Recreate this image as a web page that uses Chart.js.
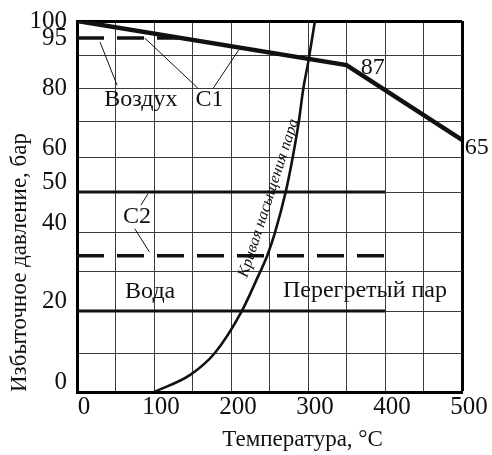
<!DOCTYPE html>
<html>
<head>
<meta charset="utf-8">
<script src="https://cdn.jsdelivr.net/npm/chart.js@4.4.1/dist/chart.umd.min.js"></script>
<style>
  body { margin: 0; background: #fff; }
  #wrap { width: 492px; height: 455px; }
</style>
</head>
<body>
<div id="wrap"><canvas id="chart" width="492" height="455"></canvas></div>
<script>
/* DATA (temperature °C, gauge pressure bar) */
const c1Temp = [0, 350, 500];
const c1Pressure = [100, 87, 65];

const airTemp = [0, 132];
const airPressure = [95, 95];

const upperTemp = [0, 400];
const upperPressure = [50, 50];

const c2Temp = [0, 400];
const c2Pressure = [34, 34];

const lowerTemp = [0, 400];
const lowerPressure = [20, 20];

const satTemp = [100, 147, 179, 214, 235, 247, 257, 271, 280, 288, 294, 300, 309];
const satPressure = [0, 4.4, 10, 20, 28.6, 34, 40, 50, 60, 70, 80, 87.5, 100];

const xTickValues = [0, 50, 100, 150, 200, 250, 300, 350, 400, 450, 500];
const xLabels = [0, 100, 200, 300, 400, 500];
const yTickValues = [0, 10, 20, 30, 40, 50, 60, 70, 80, 90, 95, 100];
const yLabels = [0, 20, 40, 50, 60, 80, 95, 100];

// the original pressure axis is hand drawn: share of the height at 0,10,...,100 bar
const pressureGrid = [0, 0.105, 0.218, 0.326, 0.429, 0.539, 0.631, 0.728, 0.819, 0.908, 1];

const FONT = "'Liberation Serif', 'Times New Roman', serif";
const X_TITLE = "Температура, °C";

/* PRESSURE SCALE (piecewise linear over the drawn grid) */
function pressureToShare(v){
  let i = Math.min(Math.max(Math.floor(v / 10), 0), pressureGrid.length - 2);
  return pressureGrid[i] + (v / 10 - i) * (pressureGrid[i+1] - pressureGrid[i]);
}
function shareToPressure(d){
  let i = 0;
  while(i < pressureGrid.length - 2 && d > pressureGrid[i+1]) i++;
  return (i + (d - pressureGrid[i]) / (pressureGrid[i+1] - pressureGrid[i])) * 10;
}
class PressureScale extends Chart.LinearScale {
  getPixelForValue(v){ return v === null ? NaN : this.getPixelForDecimal(pressureToShare(v)); }
  getValueForPixel(px){ return shareToPressure(this.getDecimalForPixel(px)); }
}
PressureScale.id = "pressure";
PressureScale.defaults = Chart.LinearScale.defaults;
Chart.register(PressureScale);

function points(xs, ys){ return xs.map((x, i) => ({ x: x, y: ys[i] })); }

/* TEXT AND LEADER LINES */
const notes = [
  { text: "Воздух", t: 83, p: 76.5 },
  { text: "C1", t: 172, p: 76.5 },
  { text: "C2", t: 78, p: 43.9 },
  { text: "Вода", t: 95, p: 24.8 },
  { text: "Перегретый пар", t: 374, p: 25.2 },
  { text: "87", t: 384, p: 86.1 },
  { text: "65", t: 519, p: 62.8 }
];
const leaders = [
  [30, 93.8, 52, 80.9],
  [88, 95, 157, 80],
  [177, 80, 210, 91.5],
  [83, 46.8, 92, 49.5],
  [75, 41, 94, 35]
];
const curveNote = { text: "Кривая насыщения пара", t: 249, p: 48.5, angle: -72 };

const notesPlugin = {
  id: "notes",
  afterDraw(chart){
    const ctx = chart.ctx, xs = chart.scales.x, ys = chart.scales.y;
    ctx.save();
    ctx.strokeStyle = "#111";
    ctx.lineWidth = 1;
    leaders.forEach(l => {
      ctx.beginPath();
      ctx.moveTo(xs.getPixelForValue(l[0]), ys.getPixelForValue(l[1]));
      ctx.lineTo(xs.getPixelForValue(l[2]), ys.getPixelForValue(l[3]));
      ctx.stroke();
    });
    ctx.fillStyle = "#111";
    ctx.textAlign = "center";
    ctx.textBaseline = "middle";
    ctx.font = "24px " + FONT;
    notes.forEach(n => {
      ctx.fillText(n.text, xs.getPixelForValue(n.t), ys.getPixelForValue(n.p));
    });
    // x axis title sits right of the plot centre in the original
    ctx.font = "23px " + FONT;
    ctx.fillText(X_TITLE, xs.getPixelForValue(293), 440);
    ctx.translate(xs.getPixelForValue(curveNote.t), ys.getPixelForValue(curveNote.p));
    ctx.rotate(curveNote.angle * Math.PI / 180);
    ctx.font = "italic 16px " + FONT;
    ctx.fillText(curveNote.text, 0, 0);
    ctx.restore();
  }
};

function line(data, width, dash){
  return {
    data: data,
    borderColor: "#111",
    borderWidth: width,
    borderDash: dash || [],
    pointRadius: 0,
    fill: false
  };
}

const satLine = line(points(satTemp, satPressure), 2.6);
satLine.cubicInterpolationMode = "monotone";

new Chart(document.getElementById("chart"), {
  type: "line",
  data: {
    datasets: [
      line(points(c1Temp, c1Pressure), 4.5),
      line(points(airTemp, airPressure), 3.5, [27, 13]),
      line(points(upperTemp, upperPressure), 3),
      line(points(c2Temp, c2Pressure), 3.5, [27, 13]),
      line(points(lowerTemp, lowerPressure), 3),
      satLine
    ]
  },
  options: {
    responsive: false,
    animation: false,
    layout: { padding: { top: 21, right: 30, left: 0, bottom: 0 } },
    plugins: { legend: { display: false }, tooltip: { enabled: false } },
    scales: {
      x: {
        type: "linear",
        min: 0, max: 500,
        afterFit: s => { s.height = 63; },
        afterBuildTicks: s => { s.ticks = xTickValues.map(v => ({ value: v })); },
        border: { display: true, color: "#000", width: 3 },
        grid: {
          drawTicks: false,
          color: c => c.tick && c.tick.value === 500 ? "#000" : "#3a3a3a",
          lineWidth: c => c.tick && c.tick.value === 500 ? 3 : 1
        },
        ticks: {
          padding: 0,
          labelOffset: 7,
          maxRotation: 0,
          autoSkip: false,
          color: "#111",
          font: { family: FONT, size: 25 },
          callback: v => xLabels.includes(v) ? String(v) : ""
        },
        title: { display: false }
      },
      y: {
        type: "pressure",
        min: 0, max: 100,
        afterFit: s => { s.width = 77; },
        afterBuildTicks: s => { s.ticks = yTickValues.map(v => ({ value: v })); },
        border: { display: true, color: "#000", width: 3 },
        grid: {
          drawTicks: false,
          color: c => !c.tick ? "#3a3a3a" : c.tick.value === 95 ? "rgba(0,0,0,0)" : c.tick.value === 100 ? "#000" : "#3a3a3a",
          lineWidth: c => c.tick && c.tick.value === 100 ? 3 : 1
        },
        ticks: {
          padding: 10,
          autoSkip: false,
          color: "#111",
          font: { family: FONT, size: 25, lineHeight: 0.75 },
          callback: v => yLabels.includes(v) ? (v <= 60 ? [String(v), ""] : String(v)) : ""
        },
        title: {
          display: true,
          text: "Избыточное давление, бар",
          align: "start",
          color: "#111",
          font: { family: FONT, size: 23 },
          padding: { top: 6, bottom: 0 }
        }
      }
    }
  },
  plugins: [notesPlugin]
});
</script>
</body>
</html>
